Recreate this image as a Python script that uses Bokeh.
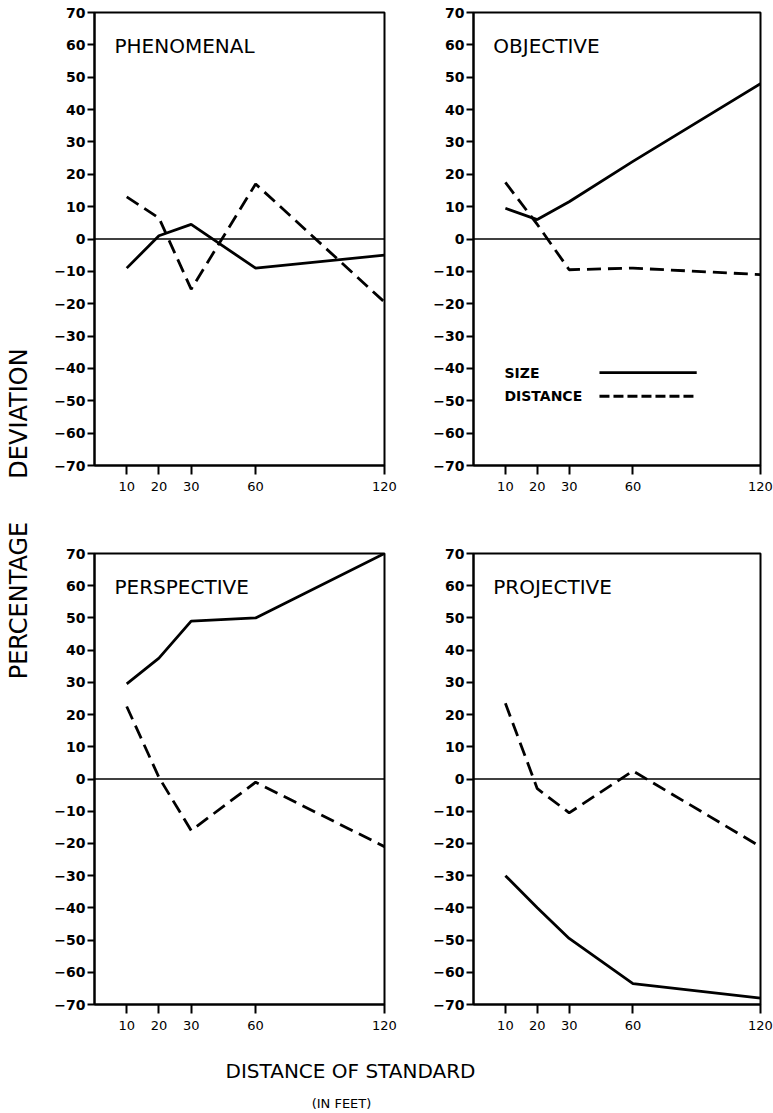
import numpy as np
from math import pi
from bokeh.plotting import figure
from bokeh.models import (Range1d, FixedTicker, Span, Label, Arrow,
                          CustomJSTickFormatter)
from bokeh.layouts import row, column
from bokeh.embed import file_html
from bokeh.resources import INLINE

# ---------------- data ----------------
DISTANCES = [10, 20, 30, 60, 120]          # distance of standard (feet)
Y_TICKS = list(range(-70, 80, 10))

phenomenal_size = [-9, 1, 4.5, -9, -5]
phenomenal_distance = [13, 6.5, -15.5, 17, -19.5]

objective_size = [9.5, 6, 11.5, 24, 48]
objective_distance = [17.5, 4.5, -9.5, -9, -11]

perspective_size = [29.5, 37.5, 49, 50, 70]
perspective_distance = [22.5, 0.5, -16, -1, -21]

projective_size = [-30, -40, -49.5, -63.5, -68]
projective_distance = [23.5, -3, -10.5, 2.5, -21]

# hand-drawn abscissa of the original: 10 ft per unit up to 30 ft, 15 ft per unit beyond
SCALE_FEET = [0, 30, 120]
SCALE_UNITS = [0, 3, 9]


def xscale(d):
    return [float(v) for v in np.interp(d, SCALE_FEET, SCALE_UNITS)]


FONT = "DejaVu Sans"
TICK_POS = xscale(DISTANCES)
TICK_LAB = [str(d) for d in DISTANCES]


def panel(title, size, dist, mb_left, frame_w, mb_right, mb_top, frame_h, mb_bottom, legend=False):
    p = figure(width=mb_left + frame_w + mb_right, height=mb_top + frame_h + mb_bottom,
               min_border_left=mb_left, min_border_right=mb_right,
               min_border_top=mb_top, min_border_bottom=mb_bottom,
               x_range=Range1d(0, 9), y_range=Range1d(-70, 70),
               output_backend="svg", toolbar_location=None)
    p.xgrid.visible = False
    p.ygrid.visible = False
    p.outline_line_color = "black"
    p.outline_line_width = 2
    p.outline_line_alpha = 1
    p.background_fill_color = "white"
    p.border_fill_color = "white"

    xs = xscale(DISTANCES)
    p.add_layout(Span(location=0, dimension="width", line_color="black", line_width=1.6))
    p.line(xs, size, line_color="black", line_width=2.8)
    p.line(xs, dist, line_color="black", line_width=2.8, line_dash="14 7")

    p.xaxis.ticker = FixedTicker(ticks=TICK_POS)
    p.xaxis.formatter = CustomJSTickFormatter(args=dict(pos=TICK_POS, lab=TICK_LAB), code="""
        for (let i = 0; i < pos.length; i++) {
            if (Math.abs(pos[i] - tick) < 1e-6) return lab[i];
        }
        return "";
    """)
    p.yaxis.ticker = FixedTicker(ticks=Y_TICKS)
    for ax in (p.xaxis[0], p.yaxis[0]):
        ax.axis_line_color = "black"
        ax.axis_line_width = 2
        ax.major_tick_line_color = "black"
        ax.major_tick_line_width = 2
        ax.major_tick_in = 0
        ax.minor_tick_line_color = None
        ax.major_label_text_color = "black"
        ax.major_label_text_font = FONT
    p.xaxis.major_tick_out = 9
    p.xaxis.major_label_standoff = 7
    p.xaxis.major_label_text_font_size = "13px"
    p.yaxis.major_tick_out = 7
    p.yaxis.major_label_standoff = 2
    p.yaxis.major_label_text_font_size = "14px"
    p.yaxis.major_label_text_font_style = "bold"

    p.add_layout(Label(x=0.62, y=59.5, text=title, text_font=FONT,
                       text_font_size="20px", text_baseline="middle",
                       text_color="black"))
    if legend:
        for lab, yy, dash in (("SIZE", -41.3, "solid"), ("DISTANCE", -48.6, "10 4")):
            p.add_layout(Label(x=0.97, y=yy, text=lab, text_font=FONT,
                               text_font_size="14px", text_font_style="bold",
                               text_baseline="middle", text_color="black"))
            p.add_layout(Arrow(end=None, x_start=3.95, y_start=yy, x_end=7.0, y_end=yy,
                               line_color="black", line_width=2.8, line_dash=dash))
    return p


# layout sizes (px)
p1 = panel("PHENOMENAL", phenomenal_size, phenomenal_distance, 46, 290, 46, 12, 453, 55)
p2 = panel("OBJECTIVE", objective_size, objective_distance, 39, 291, 13, 12, 453, 55, legend=True)
p3 = panel("PERSPECTIVE", perspective_size, perspective_distance, 46, 290, 46, 33, 451, 36)
p4 = panel("PROJECTIVE", projective_size, projective_distance, 39, 291, 13, 33, 451, 36)


def blank(w, h):
    f = figure(width=w, height=h, x_range=Range1d(0, w), y_range=Range1d(h, 0),
               min_border=0, x_axis_location=None, y_axis_location=None,
               output_backend="svg", toolbar_location=None)
    f.xgrid.visible = False
    f.ygrid.visible = False
    f.outline_line_color = None
    f.background_fill_color = "white"
    f.border_fill_color = "white"
    return f


strip = blank(48, 1113)
strip.add_layout(Label(x=18, y=413, text="DEVIATION", angle=pi / 2, text_font=FONT,
                       text_font_size="24px", text_align="center", text_baseline="middle",
                       text_color="black"))
strip.add_layout(Label(x=18, y=600, text="PERCENTAGE", angle=pi / 2, text_font=FONT,
                       text_font_size="24px", text_align="center", text_baseline="middle",
                       text_color="black"))

bottom = blank(725, 73)
bottom.add_layout(Label(x=302, y=30, text="DISTANCE OF STANDARD", text_font=FONT,
                        text_font_size="20px", text_align="center", text_baseline="middle",
                        text_color="black"))
bottom.add_layout(Label(x=293, y=63, text="(IN FEET)", text_font=FONT,
                        text_font_size="13px", text_align="center", text_baseline="middle",
                        text_color="black"))

layout = row(strip, column(row(p1, p2), row(p3, p4), bottom))

open("out.html", "w").write(file_html(layout, INLINE))
